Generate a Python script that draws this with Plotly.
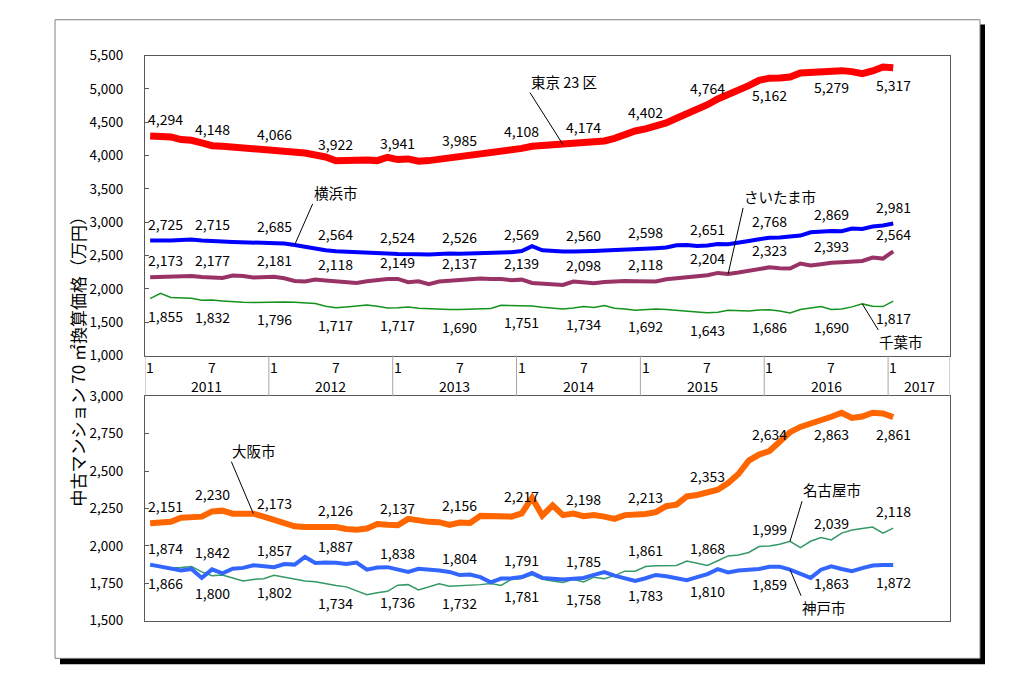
import plotly.graph_objects as go

W, H = 1024, 679
FONT = "Noto Sans CJK JP"

# ---------------- data ----------------
years = ["2011", "2012", "2013", "2014", "2015", "2016", "2017"]
month_labels = ["1", "7"]
n_slots = 78                      # Jan 2011 .. Jun 2017 on the category axis
label_idx = list(range(0, 73, 6))  # months carrying a data label

tokyo = [4294, 4290, 4280, 4240, 4230, 4190,
         4148, 4140, 4130, 4115, 4100, 4090,
         4066, 4060, 4050, 4040, 4010, 3980,
         3922, 3915, 3930, 3935, 3925, 3975,
         3941, 3950, 3915, 3925, 3945, 3960,
         3985, 3990, 4030, 4045, 4060, 4070,
         4108, 4140, 4150, 4160, 4165, 4170,
         4174, 4195, 4220, 4260, 4320, 4370,
         4402, 4440, 4490, 4560, 4620, 4690,
         4764, 4850, 4910, 4980, 5050, 5130,
         5162, 5165, 5180, 5240, 5255, 5265,
         5279, 5275, 5260, 5230, 5270, 5330,
         5317]
yokohama = [2725, 2722, 2725, 2735, 2740, 2728,
            2715, 2712, 2705, 2700, 2695, 2690,
            2685, 2680, 2660, 2630, 2600, 2580,
            2564, 2560, 2555, 2545, 2535, 2530,
            2524, 2528, 2520, 2515, 2525, 2530,
            2526, 2530, 2535, 2540, 2545, 2550,
            2569, 2640, 2580, 2565, 2560, 2562,
            2560, 2570, 2575, 2580, 2585, 2590,
            2598, 2610, 2620, 2655, 2660, 2645,
            2651, 2675, 2670, 2690, 2720, 2745,
            2768, 2770, 2785, 2800, 2850, 2860,
            2869, 2865, 2905, 2900, 2935, 2950,
            2981]
saitama = [2173, 2178, 2185, 2190, 2195, 2180,
           2177, 2165, 2200, 2195, 2170, 2178,
           2181, 2160, 2120, 2110, 2140, 2125,
           2118, 2100, 2090, 2115, 2140, 2150,
           2149, 2100, 2115, 2070, 2110, 2125,
           2137, 2150, 2155, 2150, 2148, 2130,
           2139, 2090, 2075, 2065, 2060, 2110,
           2098, 2085, 2105, 2115, 2120, 2115,
           2118, 2110, 2145, 2160, 2165, 2175,
           2204, 2240, 2225, 2245, 2270, 2300,
           2323, 2310, 2305, 2380, 2350, 2370,
           2393, 2400, 2415, 2420, 2470, 2455,
           2564]
chiba = [1855, 1935, 1870, 1862, 1860, 1830,
         1832, 1820, 1805, 1798, 1795, 1800,
         1796, 1805, 1800, 1790, 1780, 1740,
         1717, 1730, 1745, 1760, 1740, 1712,
         1717, 1730, 1710, 1700, 1695, 1690,
         1690, 1695, 1700, 1705, 1755, 1755,
         1751, 1745, 1725, 1712, 1700, 1715,
         1734, 1722, 1750, 1710, 1700, 1678,
         1692, 1700, 1690, 1675, 1670, 1655,
         1643, 1650, 1680, 1675, 1670, 1685,
         1686, 1670, 1640, 1690, 1715, 1735,
         1690, 1700, 1730, 1775, 1740, 1735,
         1817]
osaka = [2151, 2155, 2160, 2188, 2190, 2195,
         2230, 2235, 2215, 2210, 2215, 2195,
         2173, 2150, 2130, 2125, 2122, 2128,
         2126, 2112, 2108, 2115, 2145, 2140,
         2137, 2180, 2165, 2160, 2158, 2140,
         2156, 2152, 2200, 2200, 2198, 2195,
         2217, 2320, 2202, 2270, 2205, 2215,
         2198, 2205, 2195, 2180, 2205, 2208,
         2213, 2225, 2265, 2275, 2330, 2340,
         2353, 2375, 2420, 2480, 2570, 2610,
         2634, 2700, 2760, 2795, 2815, 2835,
         2863, 2890, 2855, 2865, 2890, 2885,
         2861]
nagoya = [1866, 1860, 1852, 1855, 1862, 1825,
          1800, 1805, 1785, 1765, 1775, 1780,
          1802, 1790, 1775, 1765, 1760, 1745,
          1734, 1725, 1700, 1672, 1685, 1695,
          1736, 1740, 1705, 1725, 1745, 1730,
          1732, 1735, 1740, 1748, 1735, 1775,
          1781, 1805, 1775, 1765, 1755, 1775,
          1758, 1790, 1780, 1800, 1830, 1830,
          1861, 1866, 1866, 1868, 1898, 1885,
          1868, 1900, 1932, 1938, 1955, 1995,
          1999, 2010, 2030, 1988, 2030, 2055,
          2039, 2085, 2105, 2115, 2125, 2085,
          2118]
kobe = [1874, 1862, 1850, 1835, 1845, 1785,
        1842, 1815, 1846, 1852, 1870, 1865,
        1857, 1878, 1874, 1925, 1885, 1888,
        1887, 1878, 1888, 1840, 1855, 1857,
        1838, 1825, 1846, 1842, 1835, 1825,
        1804, 1808, 1790, 1755, 1781, 1782,
        1791, 1818, 1785, 1780, 1774, 1780,
        1785, 1805, 1824, 1800, 1785, 1765,
        1783, 1805, 1796, 1785, 1770, 1790,
        1810, 1844, 1822, 1835, 1840, 1845,
        1859, 1860, 1840, 1810, 1785, 1840,
        1863, 1845, 1830, 1850, 1868, 1872,
        1872]

top_ticks = [1000, 1500, 2000, 2500, 3000, 3500, 4000, 4500, 5000, 5500]
bottom_ticks = [1500, 1750, 2000, 2250, 2500, 2750, 3000]

y_title = "中古マンション 70 ㎡換算価格（万円）"

# ---------------- layout helpers ----------------
def px(x):
    return x / W


def py(y):
    return 1 - y / H


PL, PR = 145, 950
TOP_T, TOP_B = 46, 355
BOT_T, BOT_B = 397, 628

x = list(range(len(tokyo)))

# name, values, colour, width, axis, label side per labelled point ("a"=above, "b"=below)
series = [
    ("東京23区", tokyo, "#FF0000", 7, "top", ["a"] * 10 + ["b"] * 3),
    ("横浜市", yokohama, "#0000FF", 4, "top", ["a"] * 13),
    ("さいたま市", saitama, "#993366", 4, "top", ["a"] * 13),
    ("千葉市", chiba, "#14921E", 1.5, "top", ["b"] * 13),
    ("名古屋市", nagoya, "#339966", 1.5, "bot", ["b"] * 8 + ["a"] * 5),
    ("神戸市", kobe, "#3366FF", 4, "bot", ["a"] * 8 + ["b"] * 5),
    ("大阪市", osaka, "#FF6600", 6, "bot", ["a"] * 11 + ["b"] * 2),
]

fig = go.Figure()
annotations = []

for name, vals, col, wid, panel, sides in series:
    xa, ya = ("x", "y") if panel == "top" else ("x2", "y2")
    fig.add_trace(go.Scatter(
        x=x, y=vals, mode="lines", name=name,
        line=dict(color=col, width=wid),
        xaxis=xa, yaxis=ya, showlegend=False, hoverinfo="skip",
    ))
    for k, i in enumerate(label_idx):
        side = sides[k]
        ann = dict(
            x=x[i], y=vals[i], xref=xa, yref=ya,
            text=f"{vals[i]:,}", showarrow=False,
            font=dict(family=FONT, size=14, color="black"),
            yshift=17 if side == "a" else -17,
        )
        if i == 0:
            ann.update(xanchor="left", xshift=-4)
        annotations.append(ann)

# series name call-outs (head on the line, text at the tail)
callouts = [
    ("東京 23 区", tokyo, 40, "x", "y", -33, -52, "left", "bottom"),
    ("横浜市", yokohama, 14, "x", "y", 18, -41, "left", "bottom"),
    ("さいたま市", saitama, 56, "x", "y", 15, -66, "left", "bottom"),
    ("千葉市", chiba, 69, "x", "y", 16, 26, "left", "top"),
    ("大阪市", osaka, 10, "x2", "y2", -22, -52, "left", "bottom"),
    ("名古屋市", nagoya, 62, "x2", "y2", 12, -40, "left", "bottom"),
    ("神戸市", kobe, 62, "x2", "y2", 11, 26, "left", "top"),
]
for text, vals, i, xa, ya, ax, ay, xan, yan in callouts:
    annotations.append(dict(
        x=x[i], y=vals[i], xref=xa, yref=ya, text=text,
        showarrow=True, arrowhead=0, arrowwidth=1, arrowcolor="black",
        ax=ax, ay=ay, axref="pixel", ayref="pixel",
        xanchor=xan, yanchor=yan, borderpad=0,
        font=dict(family=FONT, size=14.5, color="black"),
    ))

# category band labels (months / years)
for k, yr in enumerate(years):
    for j, m in enumerate(month_labels):
        idx = 12 * k + 6 * j
        if idx < n_slots and idx <= x[-1]:
            annotations.append(dict(
                x=idx, y=py(367), xref="x", yref="paper", text=m,
                showarrow=False, font=dict(family=FONT, size=14, color="black"),
            ))
    start = 12 * k - 0.5
    end = min(12 * k + 11.5, n_slots - 0.5)
    annotations.append(dict(
        x=(start + end) / 2, y=py(386), xref="x", yref="paper", text=yr,
        showarrow=False, font=dict(family=FONT, size=14, color="black"),
    ))

# y-axis title
annotations.append(dict(
    x=px(77), y=py(357), xref="paper", yref="paper", text=y_title,
    textangle=-90, showarrow=False, xanchor="center", yanchor="middle",
    font=dict(family=FONT, size=17, color="black"),
))

shapes = [
    # outer frame with shadow
    dict(type="rect", xref="paper", yref="paper", layer="below",
         x0=px(60), x1=px(985), y0=py(673), y1=py(14),
         fillcolor="black", line=dict(width=0)),
    dict(type="rect", xref="paper", yref="paper", layer="below",
         x0=px(55), x1=px(980), y0=py(667), y1=py(9),
         fillcolor="white", line=dict(color="#808080", width=1)),
]
# year separators in the category band
for k in range(len(years)):
    shapes.append(dict(type="line", xref="x", yref="paper",
                       x0=12 * k - 0.5, x1=12 * k - 0.5,
                       y0=py(BOT_T), y1=py(TOP_B),
                       line=dict(color="#A6A6A6", width=1)))
shapes.append(dict(type="line", xref="x", yref="paper",
                   x0=n_slots - 0.5, x1=n_slots - 0.5,
                   y0=py(BOT_T), y1=py(TOP_B),
                   line=dict(color="#A6A6A6", width=1)))

axis_common = dict(showgrid=False, zeroline=False, showline=True, mirror=True,
                   linecolor="#595959", linewidth=1)
xdom = [px(PL), px(PR)]

fig.update_layout(
    width=W, height=H, autosize=False,
    margin=dict(l=0, r=0, t=0, b=0, pad=0),
    paper_bgcolor="white", plot_bgcolor="white",
    font=dict(family=FONT, size=13, color="black"),
    xaxis=dict(domain=xdom, range=[-0.5, n_slots - 0.5], anchor="y",
               showticklabels=False, ticks="", **axis_common),
    yaxis=dict(domain=[py(TOP_B), py(TOP_T)], range=[top_ticks[0], top_ticks[-1]],
               anchor="x", tickvals=top_ticks, tickformat=",d",
               ticks="inside", ticklen=4, tickcolor="#595959",
               ticklabelstandoff=18,
               tickfont=dict(family=FONT, size=13.5, color="black"), **axis_common),
    xaxis2=dict(domain=xdom, range=[-0.5, n_slots - 0.5], anchor="y2",
                showticklabels=False, ticks="", **axis_common),
    yaxis2=dict(domain=[py(BOT_B), py(BOT_T)], range=[bottom_ticks[0], bottom_ticks[-1]],
                anchor="x2", tickvals=bottom_ticks, tickformat=",d",
                ticks="inside", ticklen=4, tickcolor="#595959",
                ticklabelstandoff=18,
                tickfont=dict(family=FONT, size=13.5, color="black"), **axis_common),
    annotations=annotations,
    shapes=shapes,
)

fig.write_html(
    "out.html",
    config={"displayModeBar": False},
    post_script=(
        "document.body.style.margin='0';"
        "document.body.style.overflow='hidden';"
    ),
)
